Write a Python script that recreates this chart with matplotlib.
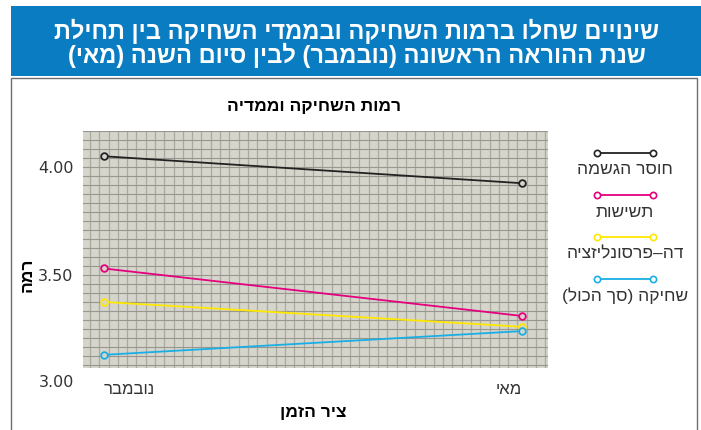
import numpy as np
import matplotlib
matplotlib.use("Agg")
import matplotlib.pyplot as plt
from matplotlib.patches import Rectangle
from matplotlib.lines import Line2D

# Data
periods = ["נובמבר", "מאי"]
series_names = ["חוסר הגשמה", "תשישות", "דה–פרסונליזציה", "שחיקה (סך הכול)"]
lack_of_accomplishment = [4.05, 3.925]
exhaustion = [3.53, 3.31]
depersonalization = [3.375, 3.26]
burnout_total = [3.13, 3.24]
y_ticks = [3.00, 3.50, 4.00]

title_lines = ["שינויים שחלו ברמות השחיקה ובממדי השחיקה בין תחילת",
               "שנת ההוראה הראשונה (נובמבר) לבין סיום השנה (מאי)"]
chart_title = "רמות השחיקה וממדיה"
x_label = "ציר הזמן"
y_label = "רמה"

colors = ["#222222", "#e5007d", "#ffe800", "#1aaee5"]
BG = "#d5d5cc"
FONT = ["Liberation Sans", "DejaVu Sans"]


def heb(s):
    """Reverse a Hebrew string into visual order (matplotlib has no bidi)."""
    mirror = {"(": ")", ")": "("}
    return "".join(mirror.get(c, c) for c in reversed(s))


plt.rcParams["font.family"] = FONT

W, H = 701, 430
fig = plt.figure(figsize=(W / 100, H / 100), dpi=100)

# Outer chart box and header banner
fig.add_artist(Rectangle((11 / W, -0.05), 686 / W, 1 - 78 / H + 0.05,
                         transform=fig.transFigure, facecolor="white",
                         edgecolor="#6e6e6e", lw=1.0, zorder=-2))
fig.add_artist(Rectangle((11 / W, 1 - 76 / H), 690 / W, 70 / H,
                         transform=fig.transFigure, facecolor="#0a7cc2",
                         edgecolor="none", zorder=-1))
for i, line in enumerate(title_lines):
    fig.text(357 / W, 1 - (39 + 23.5 * i) / H, heb(line), color="white",
             fontsize=17, fontweight="heavy", ha="center", va="baseline",
             family=["Liberation Sans Narrow", "Liberation Sans", "DejaVu Sans"])

ax = fig.add_axes([83 / W, 1 - 368 / H, 465 / W, 237 / H])
ax.set_facecolor(BG)

x = np.arange(len(periods))
ax.set_xlim(-0.05, 1.062)
ax.set_ylim(3.069, 4.167)

# graph-paper grid
for k in range(-3, 50):
    ax.axvline((k + 0.5) / 45, color="#a9a9a1", lw=0.9, zorder=0)
for k in range(-30, 5):
    ax.axhline(4.0 + k / 24, color="#97978f", lw=0.8, zorder=0.5)

series = [lack_of_accomplishment, exhaustion, depersonalization, burnout_total]
for vals, c in zip(series, colors):
    ax.plot(x, vals, color=c, lw=1.3, marker="o", markersize=4.8,
            markerfacecolor=BG, markeredgecolor=c, markeredgewidth=1.3,
            zorder=3)

for s in ax.spines.values():
    s.set_visible(False)
ax.tick_params(length=0)

ax.set_yticks(y_ticks[1:])
ax.set_yticklabels([f"{v:.2f}" for v in y_ticks[1:]], fontsize=11.5,
                   color="#333333", family=["DejaVu Sans"])
ax.tick_params(axis="y", pad=7)
ax.text(-0.018, y_ticks[0], f"{y_ticks[0]:.2f}", transform=ax.get_yaxis_transform(),
        ha="right", va="center", fontsize=11.5, color="#333333",
        family=["DejaVu Sans"], clip_on=False)

ax.set_xticks(x)
ax.set_xticklabels([heb(p) for p in periods], fontsize=12, color="#333333")
ax.tick_params(axis="x", pad=10)
ax.get_xticklabels()[0].set_ha("left")
ax.get_xticklabels()[1].set_ha("right")

fig.text(314 / W, 1 - 106 / H, heb(chart_title), fontsize=12.5,
         fontweight="bold", ha="center", va="center")
fig.text(313 / W, 1 - 413 / H, heb(x_label), fontsize=12.5,
         fontweight="bold", ha="center", va="center")
fig.text(27 / W, 1 - 275 / H, heb(y_label), fontsize=12.5,
         fontweight="bold", ha="center", va="center", rotation=90)

# Legend: key line above each name
for i, (name, c) in enumerate(zip(series_names, colors)):
    yk = 1 - (153 + 42 * i) / H
    fig.add_artist(Line2D([597 / W, 653 / W], [yk, yk], transform=fig.transFigure,
                          color=c, lw=1.3, marker="o", markersize=4.5,
                          markerfacecolor="white", markeredgecolor=c,
                          markeredgewidth=1.2))
    fig.text(625 / W, 1 - (170 + 42 * i) / H, heb(name), fontsize=12.5,
             color="#333333", ha="center", va="center")

fig.savefig("out.png", dpi=100)
